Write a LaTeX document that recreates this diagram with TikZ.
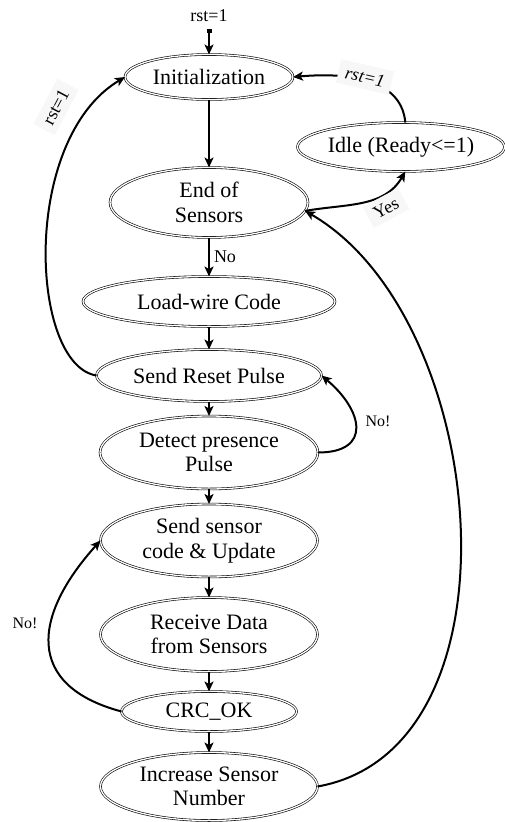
\documentclass[tikz,border=0pt]{standalone}
\usepackage{fontspec}
\setmainfont{Liberation Serif}
\usetikzlibrary{arrows.meta,shapes.geometric,positioning}
\tikzset{
  node_state/.style={ellipse,draw,double,double distance=1.3pt,line width=0.6pt,
    inner sep=0pt,outer sep=0pt,font=\fontsize{22}{24.5}\selectfont,align=center},
  arr/.style={-{Stealth[length=10pt,width=9pt,inset=2.5pt]},line width=2pt},
  lbl/.style={font=\fontsize{18}{20}\selectfont,inner sep=2pt},
  lbl_small/.style={font=\fontsize{16}{18}\selectfont,inner sep=2pt},
  lbl_box/.style={lbl,fill=black!3,inner xsep=7pt,inner ysep=6pt},
}
\begin{document}
\begin{tikzpicture}[x=1pt,y=1pt,node distance=15pt]
  \useasboundingbox (0,0) rectangle (505,-822);

  \node[node_state,minimum width=168pt,minimum height=45pt] (init) at (209,-77) {Initialization};
  \node[node_state,minimum width=198pt,minimum height=70pt,below=68pt of init] (eos) {End of\\Sensors};
  \node[node_state,minimum width=252pt,minimum height=50pt,below=39pt of eos] (load) {Load-wire Code};
  \node[node_state,minimum width=225pt,minimum height=52pt,below=23pt of load] (reset) {Send Reset Pulse};
  \node[node_state,minimum width=218pt,minimum height=73pt,below=14.5pt of reset] (detect) {Detect presence\\Pulse};
  \node[node_state,minimum width=217pt,minimum height=73pt,below=15pt of detect] (sendc) {Send sensor\\code \& Update};
  \node[node_state,minimum width=217pt,minimum height=74pt,below=20.5pt of sendc] (recv) {Receive Data\\from Sensors};
  \node[node_state,minimum width=175pt,minimum height=40pt,below=20pt of recv] (crc) {CRC\_OK};
  \node[node_state,minimum width=217pt,minimum height=68pt,below=21pt of crc] (inc) {Increase Sensor\\Number};
  \node[node_state,minimum width=206pt,minimum height=49pt] (idle) at (401,-147) {Idle (Ready<=1)};

  \node[lbl] (rst_top) at (209,-16) {rst=1};
  \coordinate (rst_in) at (209,-29);
  \draw[arr,{Square[length=4pt,width=5pt]}-{Stealth[length=10pt,width=9pt,inset=2.5pt]}] (rst_in) -- (init);

  \draw[arr] (init) -- (eos);
  \draw[arr] (eos) -- node[lbl,right=2pt] {No} (load);
  \draw[arr] (load) -- (reset);
  \draw[arr] (reset) -- (detect);
  \draw[arr] (detect) -- (sendc);
  \draw[arr] (sendc) -- (recv);
  \draw[arr] (recv) -- (crc);
  \draw[arr] (crc) -- (inc);

  \draw[arr] (reset.west) .. controls (30,-365) and (20,-140) .. (init.west);
  \draw[arr] (detect.east) to[out=0,in=-40,looseness=1.8] (reset.east);
  \draw[arr] (crc.west) to[out=165,in=228,looseness=1.5] (sendc.west);
  \draw[arr] (inc.east) to[out=10,in=-30,looseness=0.95] (eos.-5);
  \draw[arr] (eos.-5) to[out=10,in=240] (idle.-80);
  \draw[arr] (idle.80) to[out=95,in=5] (init.east);

  \node[lbl_box,rotate=62] (rst_left) at (56,-107) {rst=1};
  \node[lbl_box,font=\fontsize{18}{20}\selectfont\itshape,rotate=-13] (rst_right) at (365,-77) {rst=1};
  \node[lbl_box,rotate=28] (yes) at (386,-208) {Yes};
  \node[lbl_small] (no_reset) at (378,-421) {No!};
  \node[lbl_small] (no_crc) at (25,-623) {No!};
\end{tikzpicture}
\end{document}
